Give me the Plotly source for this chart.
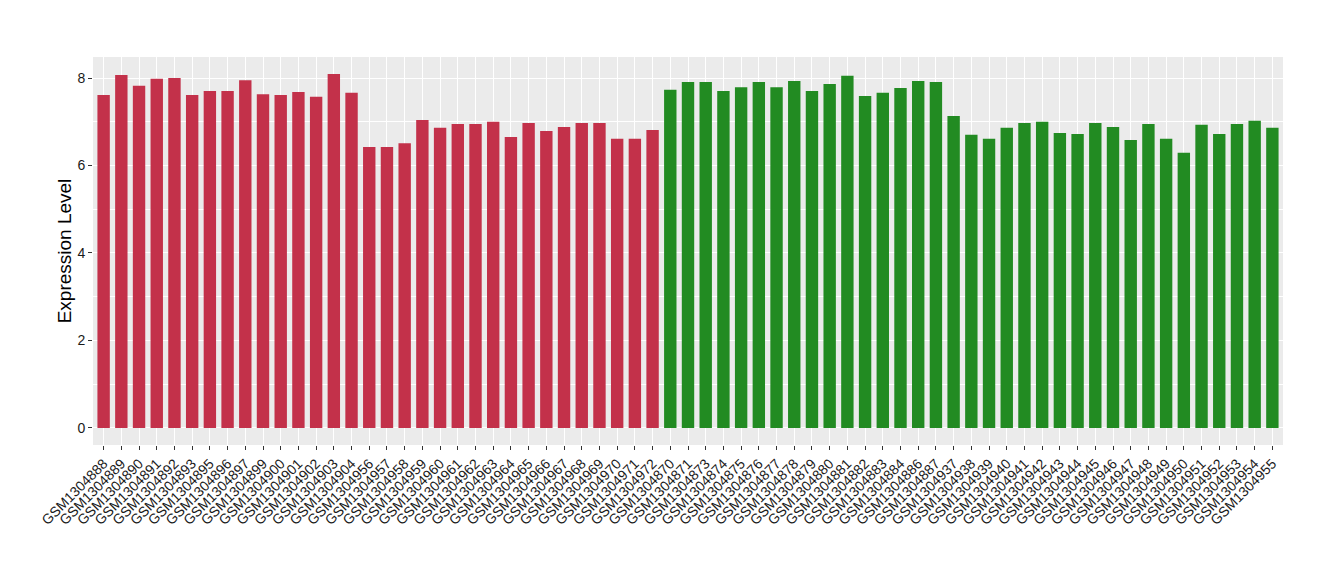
import plotly.graph_objects as go

red_samples = ["GSM1304888", "GSM1304889", "GSM1304890", "GSM1304891", "GSM1304892",
               "GSM1304893", "GSM1304895", "GSM1304896", "GSM1304897", "GSM1304899",
               "GSM1304900", "GSM1304901", "GSM1304902", "GSM1304903", "GSM1304904",
               "GSM1304956", "GSM1304957", "GSM1304958", "GSM1304959", "GSM1304960",
               "GSM1304961", "GSM1304962", "GSM1304963", "GSM1304964", "GSM1304965",
               "GSM1304966", "GSM1304967", "GSM1304968", "GSM1304969", "GSM1304970",
               "GSM1304971", "GSM1304972"]
red_values = [7.61, 8.07, 7.82, 7.98, 8.00, 7.61, 7.70, 7.70, 7.95, 7.63,
              7.61, 7.68, 7.57, 8.09, 7.66, 6.42, 6.42, 6.51, 7.04, 6.86,
              6.95, 6.95, 7.00, 6.65, 6.97, 6.79, 6.88, 6.97, 6.97, 6.61,
              6.61, 6.81]

green_samples = ["GSM1304870", "GSM1304871", "GSM1304873", "GSM1304874", "GSM1304875",
                 "GSM1304876", "GSM1304877", "GSM1304878", "GSM1304879", "GSM1304880",
                 "GSM1304881", "GSM1304882", "GSM1304883", "GSM1304884", "GSM1304886",
                 "GSM1304887", "GSM1304937", "GSM1304938", "GSM1304939", "GSM1304940",
                 "GSM1304941", "GSM1304942", "GSM1304943", "GSM1304944", "GSM1304945",
                 "GSM1304946", "GSM1304947", "GSM1304948", "GSM1304949", "GSM1304950",
                 "GSM1304951", "GSM1304952", "GSM1304953", "GSM1304954", "GSM1304955"]
green_values = [7.73, 7.91, 7.91, 7.70, 7.79, 7.91, 7.79, 7.93, 7.70, 7.86,
                8.05, 7.59, 7.66, 7.77, 7.93, 7.91, 7.13, 6.70, 6.61, 6.86,
                6.97, 7.00, 6.74, 6.72, 6.97, 6.88, 6.58, 6.95, 6.61, 6.29,
                6.93, 6.72, 6.95, 7.02, 6.86]

RED = "#C3314A"
GREEN = "#228B22"

categories = red_samples + green_samples

fig = go.Figure()
fig.add_trace(go.Bar(x=red_samples, y=red_values, marker=dict(color=RED, line=dict(width=0)),
                     showlegend=False))
fig.add_trace(go.Bar(x=green_samples, y=green_values, marker=dict(color=GREEN, line=dict(width=0)),
                     showlegend=False))

fig.update_layout(
    width=1340, height=580,
    margin=dict(l=85, r=65, t=49, b=143),
    paper_bgcolor="white",
    plot_bgcolor="#EBEBEB",
    bargap=0.3,
    font=dict(family="Liberation Sans, Arial, sans-serif", color="#222222"),
    xaxis=dict(
        type="category",
        categoryorder="array", categoryarray=categories,
        range=[-0.6, len(categories) - 0.4],
        tickangle=-45,
        tickfont=dict(size=14, color="#1a1a1a"),
        ticks="outside", ticklen=4, tickcolor="#333333", tickwidth=1,
        showgrid=True, gridcolor="white", gridwidth=1,
        zeroline=False, showline=False, automargin=False,
    ),
    yaxis=dict(
        range=[-0.39, 8.48],
        tickvals=[0, 2, 4, 6, 8],
        tickfont=dict(size=14, color="#1a1a1a"),
        ticks="outside", ticklen=4, tickcolor="#333333", tickwidth=1,
        showgrid=True, gridcolor="white", gridwidth=1.2,
        minor=dict(tickvals=[1, 3, 5, 7], showgrid=True, gridcolor="white", gridwidth=0.6, ticks=""),
        zeroline=False, showline=False, automargin=False,
        title=dict(text="Expression Level", font=dict(size=19, color="black"), standoff=0),
    ),
)

fig.write_html("out.html")
